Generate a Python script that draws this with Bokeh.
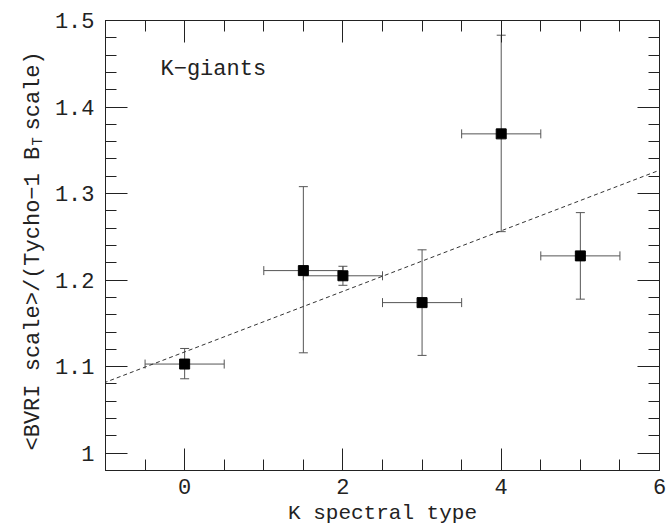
import math
from bokeh.plotting import figure
from bokeh.layouts import row, column
from bokeh.models import (ColumnDataSource, Whisker, TeeHead, Slope, Label,
                          LinearAxis, FixedTicker, CustomJSTickFormatter, Range1d)
from bokeh.embed import file_html
from bokeh.resources import INLINE

# ---- data ----
spec_type = [0.0, 1.5, 2.0, 3.0, 4.0, 5.0]
ratio = [1.103, 1.211, 1.205, 1.174, 1.369, 1.228]
ratio_lo = [1.086, 1.116, 1.194, 1.113, 1.256, 1.178]
ratio_hi = [1.121, 1.308, 1.216, 1.235, 1.483, 1.278]
type_lo = [-0.5, 1.0, 1.5, 2.5, 3.5, 4.5]
type_hi = [0.5, 2.0, 2.5, 3.5, 4.5, 5.5]

fit_slope = 0.035
fit_intercept = 1.117

x_ticks = [0, 2, 4, 6]
x_minor = [-1, -0.5, 0, 0.5, 1, 1.5, 2, 2.5, 3, 3.5, 4, 4.5, 5, 5.5, 6]
y_ticks = [1.0, 1.1, 1.2, 1.3, 1.4, 1.5]
y_minor = [round(0.98 + 0.02 * i, 2) for i in range(27)]

x_title = "K spectral type"
y_title_main = "<BVRI scale>/(Tycho\u22121 B"
y_title_sub = "T"
y_title_end = "scale)"
note_text = "K\u2212giants"

FONT = "Liberation Mono"
INK = "#222222"
BAR = "#555555"

src = ColumnDataSource(dict(x=spec_type, y=ratio, ylo=ratio_lo, yhi=ratio_hi,
                            xlo=type_lo, xhi=type_hi))

# ---- main plot ----
p = figure(width=622, height=501, x_range=Range1d(-1, 6), y_range=Range1d(0.98, 1.5),
           output_backend="svg", toolbar_location=None,
           min_border_left=60, min_border_right=8, min_border_top=20, min_border_bottom=31)
p.grid.visible = False
p.outline_line_color = INK
p.background_fill_color = "white"
p.border_fill_color = "white"

p.add_layout(LinearAxis(), "above")
p.add_layout(LinearAxis(), "right")

fmt = CustomJSTickFormatter(code="return String(Math.round(tick*10)/10);")
blank = CustomJSTickFormatter(code="return '';")
for ax in p.xaxis:
    ax.ticker = FixedTicker(ticks=x_ticks, minor_ticks=x_minor)
for ax in p.yaxis:
    ax.ticker = FixedTicker(ticks=y_ticks, minor_ticks=y_minor)
for ax in p.xaxis + p.yaxis:
    ax.formatter = fmt
    ax.axis_line_color = INK
    ax.major_tick_line_color = INK
    ax.minor_tick_line_color = INK
    ax.major_tick_in = 22
    ax.major_tick_out = 0
    ax.minor_tick_in = 11
    ax.minor_tick_out = 0
    ax.major_label_text_font = FONT
    ax.major_label_text_font_size = "22px"
    ax.major_label_text_color = INK
    ax.major_label_standoff = 11
for ax in p.above + p.right:
    ax.formatter = blank
    ax.major_label_text_font_size = "1px"
    ax.major_label_standoff = 0
p.below[0].major_label_standoff = 8

whisk_style = dict(line_color=BAR, line_width=1)
p.add_layout(Whisker(source=src, base="x", lower="ylo", upper="yhi", dimension="height",
                     upper_head=TeeHead(size=9, **whisk_style),
                     lower_head=TeeHead(size=9, **whisk_style), **whisk_style))
p.add_layout(Whisker(source=src, base="y", lower="xlo", upper="xhi", dimension="width",
                     upper_head=TeeHead(size=9, **whisk_style),
                     lower_head=TeeHead(size=9, **whisk_style), **whisk_style))

p.add_layout(Slope(gradient=fit_slope, y_intercept=fit_intercept,
                   line_color="#333333", line_width=1, line_dash="4 3"))

p.scatter(x="x", y="y", source=src, marker="square", size=10,
          fill_color="black", line_color="black")

lab = dict(x_units="screen", y_units="screen", text_font=FONT, text_color=INK)
p.add_layout(Label(x=55, y=401, text=note_text, text_font_size="22px",
                   text_align="left", text_baseline="alphabetic", **lab))


def blank_panel(w, h):
    f = figure(width=w, height=h, x_range=Range1d(0, w), y_range=Range1d(0, h),
               output_backend="svg", toolbar_location=None, min_border=0,
               x_axis_location=None, y_axis_location=None)
    f.grid.visible = False
    f.outline_line_color = None
    f.background_fill_color = "white"
    f.border_fill_color = "white"
    return f


# ---- left panel: y title with subscript (frame aligned with p's frame) ----
q = blank_panel(45, 501)
q.add_layout(Label(x=33, y=20, text=y_title_main, text_font_size="22px", angle=math.pi / 2,
                   text_align="left", text_baseline="alphabetic", **lab))
q.add_layout(Label(x=37, y=325, text=y_title_sub, text_font_size="14px", angle=math.pi / 2,
                   text_align="left", text_baseline="alphabetic", **lab))
q.add_layout(Label(x=33, y=340, text=y_title_end, text_font_size="22px", angle=math.pi / 2,
                   text_align="left", text_baseline="alphabetic", **lab))

# ---- bottom panel: x title ----
r = blank_panel(667, 24)
r.add_layout(Label(x=382, y=12, text=x_title, text_font_size="21px",
                   text_align="center", text_baseline="alphabetic", **lab))

layout = column(row(q, p, spacing=0), r, spacing=0)
open("out.html", "w").write(file_html(layout, INLINE))
